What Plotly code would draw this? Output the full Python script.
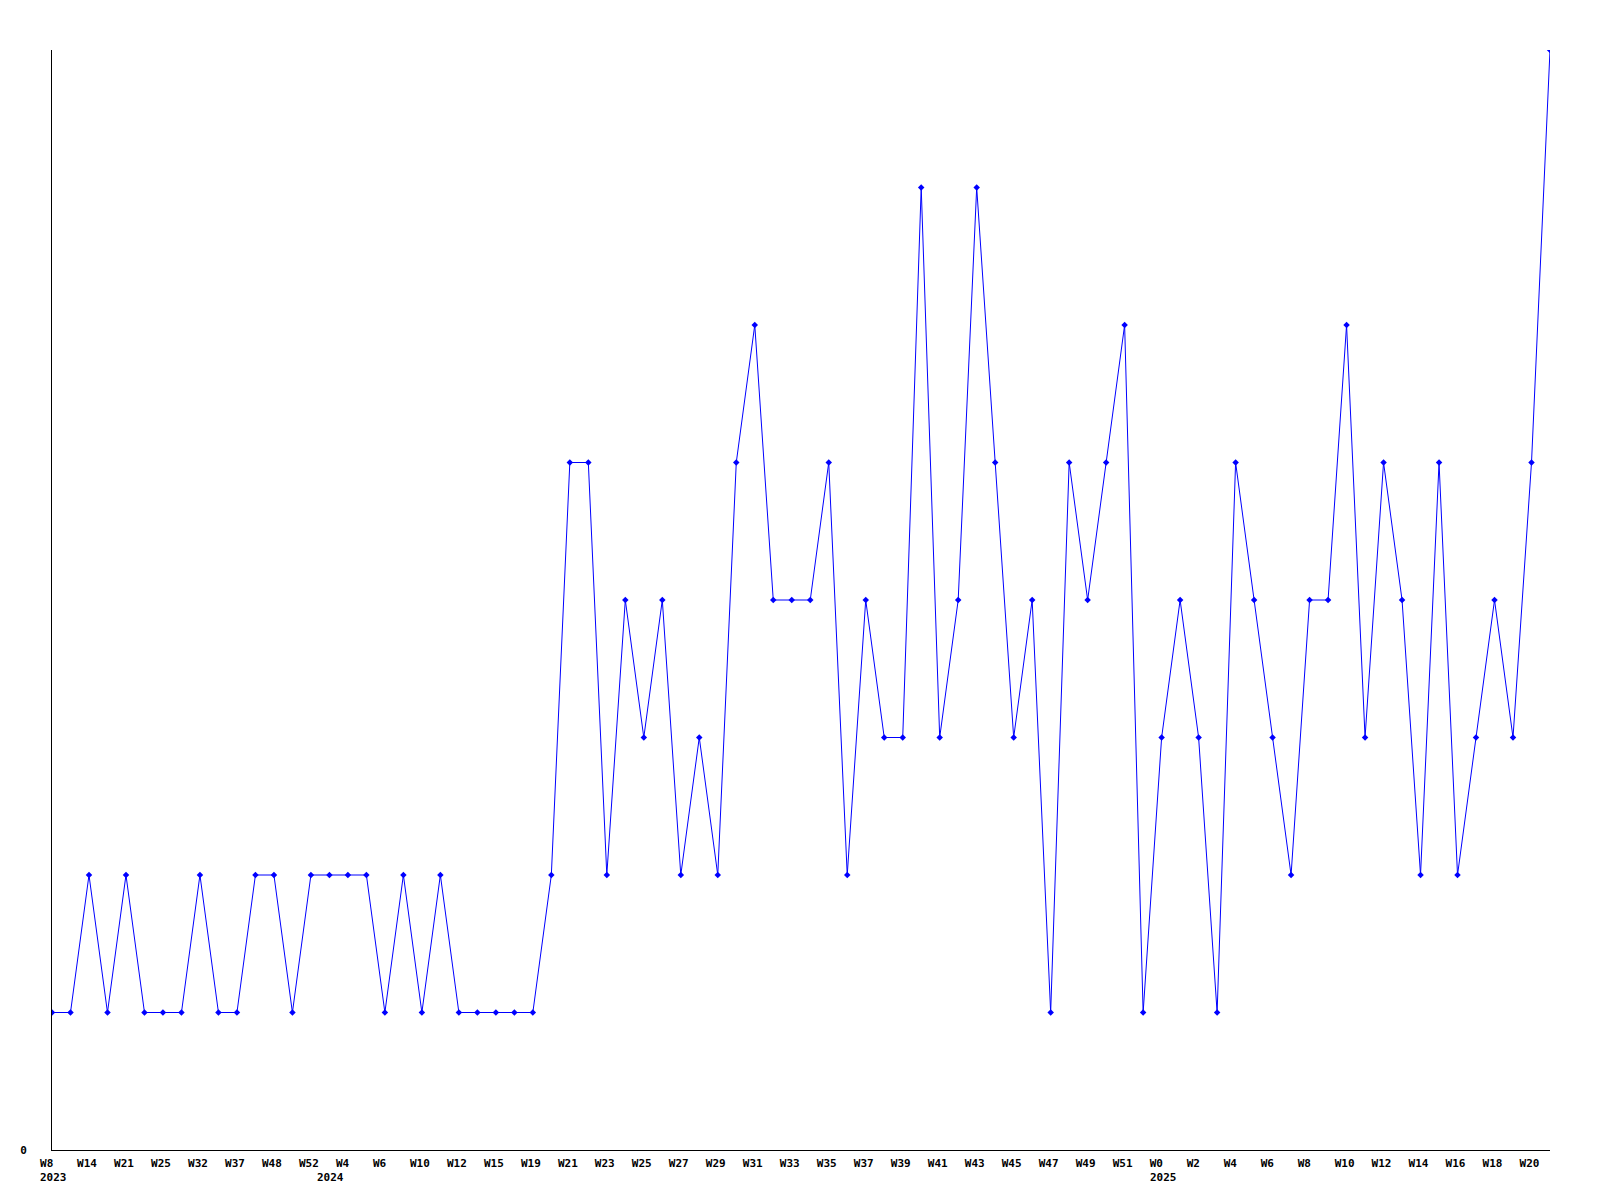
import plotly.graph_objects as go

weeks = ["W8", "W11", "W14", "W18", "W21", "W23", "W25", "W29", "W32", "W35",
         "W37", "W44", "W48", "W50", "W52", "W1", "W4", "W5", "W6", "W8",
         "W10", "W11", "W12", "W14", "W15", "W17", "W19", "W20", "W21", "W22",
         "W23", "W24", "W25", "W26", "W27", "W28", "W29", "W30", "W31", "W32",
         "W33", "W34", "W35", "W36", "W37", "W38", "W39", "W40", "W41", "W42",
         "W43", "W44", "W45", "W46", "W47", "W48", "W49", "W50", "W51", "W52",
         "W0", "W1", "W2", "W3", "W4", "W5", "W6", "W7", "W8", "W9",
         "W10", "W11", "W12", "W13", "W14", "W15", "W16", "W17", "W18", "W19",
         "W20", "W21"]

values = [1, 1, 2, 1, 2, 1, 1, 1, 2, 1,
          1, 2, 2, 1, 2, 2, 2, 2, 1, 2,
          1, 2, 1, 1, 1, 1, 1, 2, 5, 5,
          2, 4, 3, 4, 2, 3, 2, 5, 6, 4,
          4, 4, 5, 2, 4, 3, 3, 7, 3, 4,
          7, 5, 3, 4, 1, 5, 4, 5, 6, 1,
          3, 4, 3, 1, 5, 4, 3, 2, 4, 4,
          6, 3, 5, 4, 2, 5, 2, 3, 4, 3,
          5, 8]

years = ["2023", "2024", "2025"]
year_start_idx = [0, 15, 60]

x = list(range(len(values)))
tick_idx = x[::2]
# pad to 3 characters so labels read as left-aligned in monospace
tick_text = [weeks[i] + "\u00a0" * (3 - len(weeks[i])) for i in tick_idx]

font_family = "DejaVu Sans Mono"

fig = go.Figure()
fig.add_trace(go.Scatter(
    x=x, y=values, mode="lines+markers",
    line=dict(color="#0000ff", width=1),
    marker=dict(symbol="diamond", size=5, color="#0000ff"),
    hoverinfo="x+y",
))

annotations = []
for yr, idx in zip(years, year_start_idx):
    annotations.append(dict(
        x=idx, y=0, xref="x", yref="paper", text=yr, showarrow=False,
        xanchor="left", yanchor="top", xshift=-14, yshift=-19,
        font=dict(family=font_family, size=11, color="black", weight="bold"),
    ))

fig.update_layout(
    width=1584, height=1184,
    margin=dict(l=42, r=42, t=42, b=42),
    plot_bgcolor="white", paper_bgcolor="white",
    showlegend=False,
    annotations=annotations,
    xaxis=dict(
        range=[0, len(values) - 1],
        tickmode="array", tickvals=tick_idx, ticktext=tick_text,
        showgrid=False, zeroline=False,
        showline=True, linecolor="black", linewidth=1,
        ticks="", ticklabelshift=-2, ticklabelstandoff=3,
        tickfont=dict(family=font_family, size=11, color="black", weight="bold"),
        tickangle=0,
    ),
    yaxis=dict(
        range=[0, 8],
        tickmode="array", tickvals=[0], ticktext=["0"],
        showgrid=False, zeroline=False,
        showline=True, linecolor="black", linewidth=1,
        ticks="", ticklabelstandoff=22,
        tickfont=dict(family=font_family, size=11, color="black", weight="bold"),
    ),
)

fig.write_html("out.html")
